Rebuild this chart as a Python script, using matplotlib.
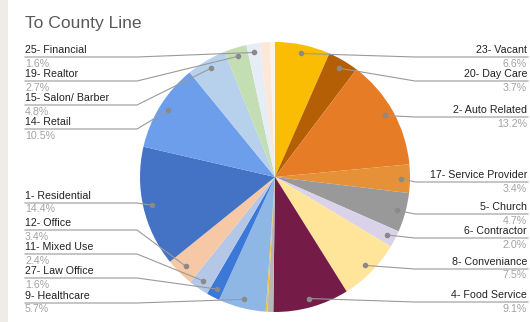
import numpy as np
import matplotlib

matplotlib.use("Agg")
import matplotlib.pyplot as plt  # noqa: E402
from matplotlib.patches import Rectangle  # noqa: E402

plt.rcParams["font.family"] = ["Liberation Sans", "DejaVu Sans"]

# ---- data (clockwise from 12 o'clock) ----
categories = [
    "23- Vacant", "20- Day Care", "2- Auto Related", "17- Service Provider",
    "5- Church", "6- Contractor", "8- Conveniance", "4- Food Service",
    "", "", "9- Healthcare", "27- Law Office", "11- Mixed Use", "12- Office",
    "1- Residential", "14- Retail", "15- Salon/ Barber", "19- Realtor",
    "25- Financial", "", "",
]
shares = [6.6, 3.7, 13.2, 3.4, 4.7, 2.0, 7.5, 9.1, 0.7, 0.2, 5.7, 1.6, 2.4,
          3.4, 14.4, 10.5, 4.8, 2.7, 1.6, 1.2, 0.6]
colors = [
    "#fbbc04", "#b45f06", "#e67c26", "#e69138", "#999999", "#d9d2e9",
    "#ffe599", "#741b47", "#b7b7b7", "#f1c232", "#8eb7e5", "#3c78d8",
    "#b4c7e7", "#f6c8a5", "#4472c4", "#6d9eeb", "#b7d1ed", "#c3deb2",
    "#e6edf7", "#fce8d8", "#fdf3ea",
]

# ---- layout (pixels from top) ----
W, H = 530, 322
CX, CY, R = 275, 177, 135
label_line_y = {
    "23- Vacant": 57, "20- Day Care": 81, "2- Auto Related": 117,
    "17- Service Provider": 182, "5- Church": 214, "6- Contractor": 238,
    "8- Conveniance": 269, "4- Food Service": 302,
    "25- Financial": 57, "19- Realtor": 81, "15- Salon/ Barber": 105,
    "14- Retail": 129, "1- Residential": 203, "12- Office": 230,
    "11- Mixed Use": 254, "27- Law Office": 278, "9- Healthcare": 303,
}


def fy(y_px):
    return H - y_px


fig = plt.figure(figsize=(W / 100, H / 100), dpi=100)
fig.patch.set_facecolor("white")
fig.patches.append(Rectangle((0, 0), 8 / W, 1, transform=fig.transFigure,
                             facecolor="#efebe7", edgecolor="none"))
ax = fig.add_axes([0, 0, 1, 1])

wedges, _ = ax.pie(shares, colors=colors, startangle=90, counterclock=False,
                   center=(CX, fy(CY)), radius=R,
                   wedgeprops=dict(linewidth=0))
ax.set_xlim(0, W)
ax.set_ylim(0, H)
ax.set_aspect("auto")
ax.axis("off")

ax.text(25, fy(23), "To County Line", fontsize=12.6, color="#595959",
        va="center", ha="left")

line_kw = dict(color="#9a9a9a", lw=0.8, zorder=3)
for w, name, val in zip(wedges, categories, shares):
    if not name:
        continue
    mid = np.deg2rad((w.theta1 + w.theta2) / 2)
    dx, dy = CX + 0.935 * R * np.cos(mid), fy(CY) + 0.935 * R * np.sin(mid)
    ly = fy(label_line_y[name])
    if dx >= CX:
        ax.plot([dx, 415, 528], [dy, ly, ly], **line_kw)
        tx, ha = 527, "right"
    else:
        ax.plot([dx, 137, 25], [dy, ly, ly], **line_kw)
        tx, ha = 25, "left"
    ax.plot(dx, dy, "o", ms=3, color="#8a8a8a", zorder=4)
    ax.text(tx, ly + 7, name, fontsize=7.7, color="#222222", ha=ha, va="center")
    ax.text(tx, ly - 6.5, f"{val:.1f}%", fontsize=7.7, color="#a3a3a3",
            ha=ha, va="center")

fig.savefig("out.png", dpi=100)
